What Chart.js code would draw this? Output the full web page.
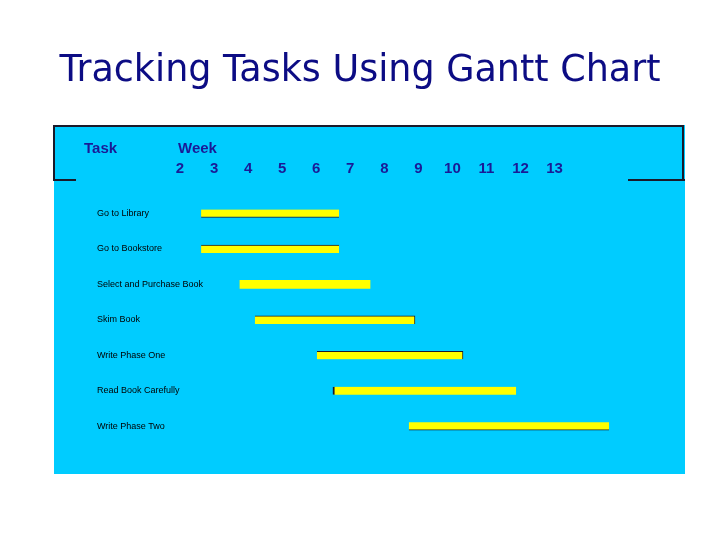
<!DOCTYPE html>
<html><head><meta charset="utf-8">
<script src="https://cdn.jsdelivr.net/npm/chart.js@4"></script>
<style>html,body{margin:0;padding:0;background:#fff;}canvas{display:block}</style>
</head><body>
<canvas id="c" width="720" height="540"></canvas>
<script>
const chartTitle = 'Tracking Tasks Using Gantt Chart';
const headerTask = 'Task';
const headerWeek = 'Week';
const tasks = ['Go to Library','Go to Bookstore','Select and Purchase Book','Skim Book','Write Phase One','Read Book Carefully','Write Phase Two'];
const taskStart = [2.62, 2.62, 3.76, 4.20, 6.02, 6.49, 8.72];
const taskEnd   = [6.67, 6.67, 7.58, 8.90, 10.31, 11.87, 14.60];
const weekTicks  = [2,3,4,5,6,7,8,9,10,11,12,13];
const weekLabels = ['2','3','4','5','6','7','8','9','10','11','12','13'];

const barEdges = [{bottom:1},{top:1},{},{top:1,right:1},{top:1,right:1},{left:2},{bottom:1}];
const PANEL = '#00CCFF', HEAD = '#1a1a96', LINE = '#1a1a2a';

const panelPlugin = {
  id: 'panel',
  beforeDraw(chart) {
    const ctx = chart.ctx;
    ctx.save();
    ctx.fillStyle = PANEL;
    ctx.fillRect(54, 125, 631, 349);
    ctx.strokeStyle = LINE; ctx.lineWidth = 2;
    ctx.beginPath();
    ctx.moveTo(54, 180); ctx.lineTo(54, 126); ctx.lineTo(683, 126); ctx.lineTo(683, 180);
    ctx.moveTo(53, 180); ctx.lineTo(76, 180);
    ctx.moveTo(628, 180); ctx.lineTo(685, 180);
    ctx.stroke();
    ctx.restore();
  },
  afterDraw(chart) {
    const ctx = chart.ctx, xs = chart.scales.x;
    ctx.save();
    ctx.fillStyle = HEAD;
    ctx.font = 'bold 15px "Liberation Sans", Arial, sans-serif';
    ctx.textBaseline = 'middle'; ctx.textAlign = 'left';
    ctx.fillText(headerTask, 84, 148.5);
    ctx.fillText(headerWeek, xs.getPixelForValue(weekTicks[0]) - 2, 148.5);
    ctx.restore();
  }
};

new Chart(document.getElementById('c'), {
  type: 'bar',
  data: {
    labels: tasks,
    datasets: [{
      data: tasks.map((t, i) => [taskStart[i], taskEnd[i]]),
      backgroundColor: '#FFFF00',
      borderColor: LINE,
      borderWidth: barEdges,
      borderSkipped: false,
      barThickness: 8
    }]
  },
  options: {
    indexAxis: 'y',
    responsive: false,
    devicePixelRatio: 1,
    animation: false,
    layout: { padding: { left: 36, right: 36, top: 0, bottom: 96 } },
    plugins: {
      legend: { display: false },
      tooltip: { enabled: false },
      title: {
        display: true,
        text: chartTitle,
        color: '#0c0c84',
        font: { family: '"DejaVu Sans", sans-serif', size: 36.5, weight: 'normal', lineHeight: 1.2 },
        padding: { top: 50, bottom: 48 }
      }
    },
    scales: {
      x: {
        type: 'linear',
        position: 'top',
        min: -1.7, max: 16.8,
        bounds: 'data',
        grid: { display: false, drawTicks: false },
        border: { display: false },
        afterBuildTicks: (s) => { s.ticks = weekTicks.map(v => ({ value: v })); },
        ticks: {
          autoSkip: false, maxRotation: 0, padding: 18,
          color: HEAD,
          font: { family: '"Liberation Sans", Arial, sans-serif', size: 15, weight: 'bold', lineHeight: 1.2 },
          callback: (v, i) => weekLabels[i]
        }
      },
      y: {
        type: 'category',
        position: 'left',
        afterFit: (s) => { s.width = 18; },
        grid: { display: false, drawTicks: false },
        border: { display: false },
        ticks: {
          mirror: true, padding: 43,
          color: '#000000',
          font: { family: '"Liberation Sans", Arial, sans-serif', size: 9 }
        }
      }
    }
  },
  plugins: [panelPlugin]
});
</script>
</body></html>
